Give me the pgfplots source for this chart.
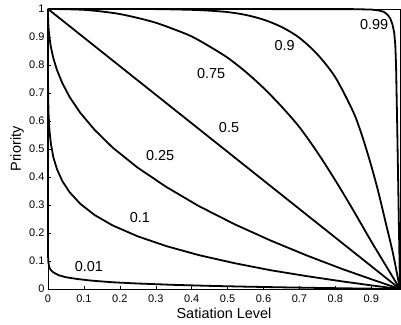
\documentclass[border=0pt]{standalone}
\usepackage{fontspec}
\setmainfont{Liberation Sans}
\usepackage{pgfplots}
\pgfplotsset{compat=1.18}
\begin{document}
\begin{tikzpicture}
\useasboundingbox (-48bp,-36bp) rectangle (353bp,289bp);
\begin{axis}[
  scale only axis, width=352bp, height=280bp,
  at={(0,0)}, anchor=south west,
  xmin=0, xmax=0.98, ymin=0, ymax=1,
  clip=false,
  every axis plot post/.append style={black, solid, line width=1.8bp, mark=none},
  xtick={0,0.1,0.2,0.3,0.4,0.5,0.6,0.7,0.8,0.9},
  xticklabels={0,0.1,0.2,0.3,0.4,0.5,0.6,0.7,0.8,0.9},
  ytick={0,0.1,0.2,0.3,0.4,0.5,0.6,0.7,0.8,0.9,1},
  yticklabels={0,0.1,0.2,0.3,0.4,0.5,0.6,0.7,0.8,0.9,1},
  tick align=inside, major tick length=3bp,
  xtick pos=bottom, ytick pos=left,
  axis line style={line width=0.6bp},
  tick style={line width=0.5bp, black},
  tick label style={font=\fontsize{11}{13}\selectfont},
  xticklabel style={yshift=-2bp},
  label style={font=\fontsize{14.5}{17}\selectfont},
  xlabel={Satiation Level},
  ylabel={Priority},
  xlabel style={at={(axis description cs:0.5,0)}, anchor=base, yshift=-29bp},
  ylabel style={at={(axis description cs:-0.0767,0.5)}, anchor=base},
]
% 0.01
\addplot coordinates {(0,1) (0.0002,0.12) (0.0007,0.1) (0.003,0.08) (0.0066,0.07) (0.014,0.06) (0.03,0.049) (0.05,0.042) (0.08,0.036) (0.12,0.030) (0.18,0.024) (0.25,0.0196) (0.35,0.0148) (0.45,0.0112) (0.55,0.0084) (0.65,0.006) (0.75,0.0039) (0.85,0.0021) (0.93,0.0008) (0.98,0)};
% 0.1
\addplot coordinates {(0,1) (0.00001,0.826) (0.0001,0.753) (0.0005,0.684) (0.0015,0.627) (0.004,0.567) (0.008,0.519) (0.015,0.470) (0.025,0.428) (0.04,0.385) (0.06,0.346) (0.09,0.304) (0.13,0.264) (0.18,0.227) (0.25,0.188) (0.33,0.153) (0.42,0.121) (0.52,0.092) (0.62,0.067) (0.72,0.046) (0.82,0.027) (0.9,0.013) (0.98,0)};
% 0.25
\addplot coordinates {(0,1) (0.0001,0.978) (0.0005,0.957) (0.0015,0.932) (0.004,0.898) (0.008,0.864) (0.015,0.824) (0.025,0.782) (0.04,0.735) (0.06,0.686) (0.09,0.629) (0.13,0.568) (0.18,0.505) (0.25,0.433) (0.33,0.364) (0.42,0.296) (0.52,0.231) (0.62,0.173) (0.72,0.120) (0.82,0.071) (0.9,0.035) (0.98,0)};
% 0.5
\addplot coordinates {(0,1) (0.98,0)};
% 0.75
\addplot+[smooth] coordinates {(0,1) (0.05,0.9992) (0.1,0.997) (0.15,0.991) (0.2,0.982) (0.25,0.968) (0.3,0.951) (0.35,0.928) (0.4,0.902) (0.45,0.866) (0.5,0.826) (0.55,0.776) (0.6,0.718) (0.65,0.652) (0.7,0.578) (0.75,0.488) (0.8,0.388) (0.85,0.281) (0.9,0.170) (0.94,0.085) (0.98,0)};
% 0.9
\addplot+[smooth] coordinates {(0,1) (0.2,0.99997) (0.3,0.9996) (0.4,0.997) (0.45,0.994) (0.5,0.989) (0.55,0.979) (0.6,0.962) (0.65,0.936) (0.7,0.897) (0.75,0.838) (0.8,0.756) (0.85,0.632) (0.875,0.545) (0.9,0.44) (0.92,0.345) (0.94,0.238) (0.96,0.13) (0.98,0)};
% 0.99
\addplot coordinates {(0,1) (0.85,0.9995) (0.9,0.998) (0.92,0.995) (0.935,0.99) (0.945,0.98) (0.953,0.966) (0.959,0.945) (0.964,0.915) (0.967,0.87) (0.969,0.8) (0.972,0.6) (0.974,0.45) (0.976,0.3) (0.978,0.15) (0.98,0)};
\begin{scope}[font=\fontsize{14.5}{17}\selectfont]
\node at (axis cs:0.114,0.082) {0.01};
\node at (axis cs:0.256,0.255) {0.1};
\node at (axis cs:0.312,0.478) {0.25};
\node at (axis cs:0.504,0.575) {0.5};
\node at (axis cs:0.454,0.771) {0.75};
\node at (axis cs:0.659,0.871) {0.9};
\node at (axis cs:0.908,0.945) {0.99};
\end{scope}
\end{axis}
\end{tikzpicture}
\end{document}
